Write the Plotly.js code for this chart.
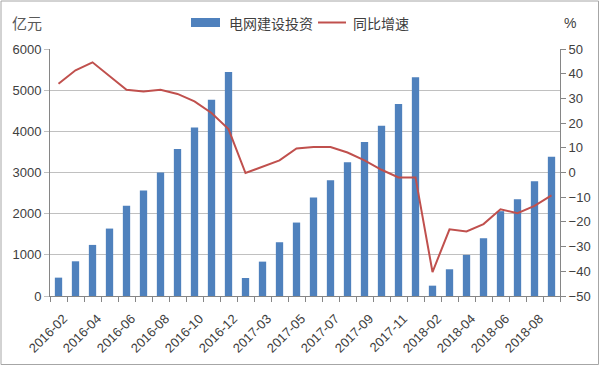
<!DOCTYPE html>
<html>
<head>
<meta charset="utf-8">
<script src="https://cdn.plot.ly/plotly-3.0.1.min.js"></script>
<style>html,body{margin:0;padding:0;background:#fff;}#chart{width:600px;height:366px;}</style>
</head>
<body>
<div id="chart"></div>
<script>
// ---- data ----
const months = [
  '2016-02','2016-03','2016-04','2016-05','2016-06','2016-07','2016-08','2016-09','2016-10','2016-11','2016-12',
  '2017-02','2017-03','2017-04','2017-05','2017-06','2017-07','2017-08','2017-09','2017-10','2017-11','2017-12',
  '2018-02','2018-03','2018-04','2018-05','2018-06','2018-07','2018-08','2018-09'
];
const investment = [
  446, 843, 1241, 1638, 2190, 2563, 3001, 3569, 4096, 4769, 5442,
  438, 835, 1306, 1784, 2393, 2814, 3252, 3739, 4136, 4663, 5312,
  251, 649, 998, 1403, 2060, 2352, 2790, 3382
];
const growth = [
  35.9, 41.4, 44.6, 39.2, 33.5, 32.8, 33.5, 31.8, 28.8, 24.1, 17.6,
  -0.2, 2.4, 4.9, 9.7, 10.3, 10.3, 8.1, 4.9, 1.1, -2.0, -2.0,
  -40.3, -23.0, -23.9, -20.9, -14.9, -16.5, -13.5, -9.3
];
const tickLabels = ['2016-02','2016-04','2016-06','2016-08','2016-10','2016-12','2017-03','2017-05','2017-07','2017-09','2017-11','2018-02','2018-04','2018-06','2018-08'];
const seriesNames = ['电网建设投资', '同比增速'];
const leftUnit = '亿元';
const rightUnit = '%';

// ---- layout helpers ----
const W = 600, H = 366;
const M = {l: 50, r: 40, t: 49, b: 70};
const pw = W - M.l - M.r, ph = H - M.t - M.b;
const px = x => (x - M.l) / pw;
const py = y => (H - M.b - y) / ph;

const xIdx = months.map((_, i) => i);
const tickvals = tickLabels.map(m => months.indexOf(m));

const textColor = '#404040';
const gridColor = '#c0c0c0';
const axisColor = '#868686';
const numFont = {family: 'Liberation Sans, Arial, sans-serif', size: 13, color: textColor};
const cjkFont = {family: 'Noto Sans CJK SC, sans-serif', size: 14, color: textColor};

const traces = [
  {type: 'bar', x: xIdx, y: investment, name: seriesNames[0], marker: {color: '#4f81bd'}, yaxis: 'y', showlegend: false},
  {type: 'scatter', mode: 'lines', x: xIdx, y: growth, name: seriesNames[1], line: {color: '#c0504d', width: 2}, yaxis: 'y2', showlegend: false}
];

const layout = {
  width: W, height: H,
  margin: M,
  paper_bgcolor: '#fff', plot_bgcolor: '#fff',
  bargap: 0.57,
  showlegend: false,
  xaxis: {
    range: [-0.5, months.length - 0.5],
    tickmode: 'array', tickvals: tickvals, ticktext: tickLabels,
    tickangle: -45, tickfont: numFont,
    ticks: '', ticklen: 5,
    ticklabelstandoff: 9, ticklabelshift: 5,
    minor: {tick0: -0.5, dtick: 1, ticks: 'outside', ticklen: 5, tickcolor: axisColor, showgrid: false},
    showline: true, linecolor: axisColor, linewidth: 1,
    showgrid: false, zeroline: false, fixedrange: true
  },
  yaxis: {
    range: [0, 6000], dtick: 1000, tick0: 0,
    tickfont: numFont,
    ticks: 'outside', ticklen: 5, tickcolor: gridColor,
    showline: true, linecolor: axisColor, linewidth: 1,
    gridcolor: gridColor, gridwidth: 1, zeroline: false
  },
  yaxis2: {
    overlaying: 'y', side: 'right',
    range: [-50, 50], dtick: 10, tick0: -50,
    tickfont: numFont,
    ticks: 'outside', ticklen: 5, tickcolor: axisColor,
    showline: true, linecolor: axisColor, linewidth: 1,
    showgrid: false, zeroline: false
  },
  shapes: [
    // outer frame
    {type: 'rect', xref: 'paper', yref: 'paper', x0: px(1), x1: px(598.5), y0: py(1), y1: py(364.5), line: {color: '#a6a6a6', width: 1}},
    // legend swatches
    {type: 'rect', xref: 'paper', yref: 'paper', x0: px(191), x1: px(220), y0: py(18), y1: py(27), fillcolor: '#4f81bd', line: {width: 0}},
    {type: 'line', xref: 'paper', yref: 'paper', x0: px(318), x1: px(346), y0: py(22.5), y1: py(22.5), line: {color: '#c0504d', width: 2}}
  ],
  annotations: [
    {xref: 'paper', yref: 'paper', x: px(227), y: py(22.5), text: seriesNames[0], showarrow: false, xanchor: 'left', yanchor: 'middle', font: cjkFont},
    {xref: 'paper', yref: 'paper', x: px(351), y: py(22.5), text: seriesNames[1], showarrow: false, xanchor: 'left', yanchor: 'middle', font: cjkFont},
    {xref: 'paper', yref: 'paper', x: px(10), y: py(22.5), text: leftUnit, showarrow: false, xanchor: 'left', yanchor: 'middle', font: {family: 'Noto Sans CJK SC, sans-serif', size: 15, color: '#595959'}},
    {xref: 'paper', yref: 'paper', x: px(562), y: py(23), text: rightUnit, showarrow: false, xanchor: 'left', yanchor: 'middle', font: {family: 'Liberation Sans, Arial, sans-serif', size: 14, color: textColor}}
  ]
};

Plotly.newPlot('chart', traces, layout, {displayModeBar: false, staticPlot: true});
</script>
</body>
</html>
